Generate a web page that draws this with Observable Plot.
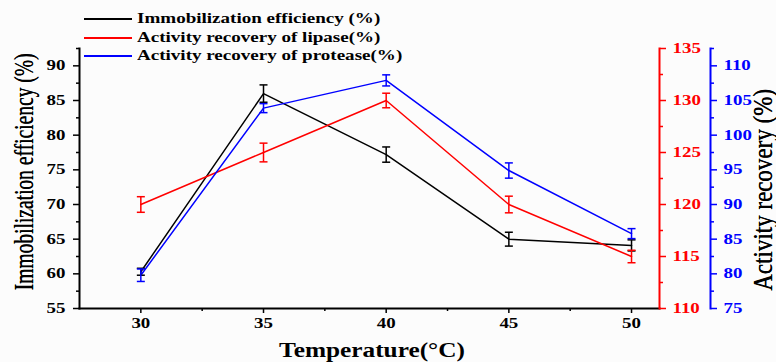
<!DOCTYPE html>
<html><head><meta charset="utf-8">
<script src="https://cdn.jsdelivr.net/npm/d3@7"></script>
<script src="https://cdn.jsdelivr.net/npm/@observablehq/plot@0.6"></script>
<style>
html,body{margin:0;padding:0;background:#fcfcfc;overflow:hidden;}
#wrap{position:relative;width:776px;height:362px;font-family:"Liberation Serif","Times New Roman",serif;color:#000;}
.leg{position:absolute;left:137px;font-weight:bold;font-size:14px;line-height:18px;white-space:nowrap;transform:scaleX(1.36);transform-origin:0 50%;}
.legline{position:absolute;left:84px;width:48px;height:2px;}
.ttl{position:absolute;white-space:nowrap;line-height:1;}
</style></head><body><div id="wrap"></div>
<script>
// ---- data ----
const temperature = [30, 35, 40, 45, 50];
const immobilization = [60.3, 86, 77.2, 65, 64.1];
const immobilizationErr = [0.5, 1.25, 1.1, 1.0, 0.8];
const lipase = [120, 125, 130, 120, 115];
const lipaseErr = [0.75, 0.9, 0.7, 0.8, 0.6];
const protease = [79.8, 103.9, 107.9, 94.9, 85.8];
const proteaseErr = [0.9, 0.65, 0.8, 1.1, 0.72];
const seriesNames = ["Immobilization efficiency (%)", "Activity recovery of lipase(%)", "Activity recovery of protease(%)"];
const seriesColors = ["#000000", "#ff0000", "#0000ff"];
const xTicks = [30, 35, 40, 45, 50];
const xMinor = [32.5, 37.5, 42.5, 47.5];
const leftTicks = [55, 60, 65, 70, 75, 80, 85, 90];
const leftMinor = [57.5, 62.5, 67.5, 72.5, 77.5, 82.5, 87.5, 92.5];
const redTicks = [110, 115, 120, 125, 130, 135];
const redMinor = [112.5, 117.5, 122.5, 127.5, 132.5];
const blueTicks = [75, 80, 85, 90, 95, 100, 105, 110];
const blueMinor = [77.5, 82.5, 87.5, 92.5, 97.5, 102.5, 107.5, 112.5];
const xDomain = [27.5, 51.14];
const leftDomain = [55, 92.5];
const redDomain = [110, 135];
const blueDomain = [75, 112.5];
const xTitle = "Temperature(°C)";
const leftTitle = "Immobilization efficiency (%)";
const rightTitle = "Activity recovery (%)";

// ---- scale mapping of secondary axes onto the left scale ----
const mapper = (dom) => d3.scaleLinear().domain(dom).range(leftDomain);
const redMap = mapper(redDomain), blueMap = mapper(blueDomain);

const rows = [];
const addSeries = (name, vals, errs, m) => vals.forEach((v, i) => rows.push({
  series: name, x: temperature[i], y: m(v), lo: m(v - errs[i]), hi: m(v + errs[i])
}));
addSeries(seriesNames[0], immobilization, immobilizationErr, (v) => v);
addSeries(seriesNames[1], lipase, lipaseErr, redMap);
addSeries(seriesNames[2], protease, proteaseErr, blueMap);

function cap(color) {
  const ns = "http://www.w3.org/2000/svg";
  const m = document.createElementNS(ns, "marker");
  m.setAttribute("viewBox", "-5 -5 10 10");
  m.setAttribute("markerWidth", 10);
  m.setAttribute("markerHeight", 10);
  m.setAttribute("markerUnits", "userSpaceOnUse");
  m.setAttribute("orient", "auto");
  const p = document.createElementNS(ns, "path");
  p.setAttribute("d", "M0,-4V4");
  p.setAttribute("stroke", color);
  p.setAttribute("stroke-width", 1.5);
  p.setAttribute("fill", "none");
  m.appendChild(p);
  return m;
}

const plot = Plot.plot({
  width: 776, height: 362,
  marginLeft: 79, marginRight: 117, marginTop: 48, marginBottom: 54,
  style: {fontFamily: "Liberation Serif, Times New Roman, serif", fontSize: "14px", fontWeight: "bold", background: "transparent", overflow: "visible"},
  x: {domain: xDomain, axis: null},
  y: {domain: leftDomain, axis: null},
  color: {domain: seriesNames, range: seriesColors},
  marks: [
    Plot.frame({anchor: "left", stroke: "#000", strokeWidth: 2}),
    Plot.frame({anchor: "bottom", stroke: "#000", strokeWidth: 2}),
    Plot.frame({anchor: "right", stroke: "#ff0000", strokeWidth: 2}),
    Plot.frame({anchor: "right", stroke: "#0000ff", strokeWidth: 2, insetRight: -51}),
    Plot.axisX(xTicks, {anchor: "bottom", tickSize: 5, tickPadding: 5, strokeWidth: 1.5, label: null}),
    Plot.axisX(xMinor, {anchor: "bottom", tickSize: 3, strokeWidth: 1.5, fill: "none", label: null}),
    Plot.axisY(leftTicks, {anchor: "left", tickSize: 6, tickPadding: 8, strokeWidth: 1.5, label: null}),
    Plot.axisY(leftMinor, {anchor: "left", tickSize: 3, strokeWidth: 1.5, fill: "none", label: null}),
    Plot.axisY(redTicks.map(redMap), {anchor: "right", stroke: "#ff0000", fill: "#ff0000", tickSize: 6, tickPadding: 7, strokeWidth: 1.5, tickFormat: (d) => Math.round(redMap.invert(d)), label: null}),
    Plot.axisY(redMinor.map(redMap), {anchor: "right", stroke: "#ff0000", fill: "none", tickSize: 3, strokeWidth: 1.5, label: null}),
    Plot.axisY(blueTicks.map(blueMap), {anchor: "right", dx: 51, stroke: "#0000ff", fill: "#0000ff", tickSize: 6, tickPadding: 7, strokeWidth: 1.5, tickFormat: (d) => Math.round(blueMap.invert(d)), label: null}),
    Plot.axisY(blueMinor.map(blueMap), {anchor: "right", dx: 51, stroke: "#0000ff", fill: "none", tickSize: 3, strokeWidth: 1.5, label: null}),
    Plot.line(rows, {x: "x", y: "y", z: "series", stroke: "series", strokeWidth: 1.5}),
    Plot.link(rows, {x1: "x", x2: "x", y1: "lo", y2: "hi", stroke: "series", strokeWidth: 1.5, markerStart: cap, markerEnd: cap})
  ]
});

// stretch tick labels horizontally like the reference typeface
d3.select(plot).selectAll('[aria-label$="tick label"] text').attr("transform", function () {
  return (this.getAttribute("transform") || "") + " scale(1.35,1)";
});

const wrap = document.getElementById("wrap");
wrap.appendChild(plot);

// legend
const legY = [19, 37.5, 56];
seriesNames.forEach((name, i) => {
  const ln = document.createElement("div");
  ln.className = "legline";
  ln.style.top = (legY[i] - 1) + "px";
  ln.style.backgroundColor = seriesColors[i];
  wrap.appendChild(ln);
  const t = document.createElement("div");
  t.className = "leg";
  t.style.top = (legY[i] - 9) + "px";
  t.textContent = name;
  wrap.appendChild(t);
});

// titles
function title(text, cx, cy, css, tf) {
  const d = document.createElement("div");
  d.className = "ttl";
  d.textContent = text;
  d.style.left = cx + "px";
  d.style.top = cy + "px";
  Object.assign(d.style, css);
  d.style.transform = "translate(-50%,-50%) " + tf;
  wrap.appendChild(d);
}
title(leftTitle, 24, 172, {fontSize: "19.5px", textShadow: "0.3px 0 0 #000"}, "rotate(-90deg) scaleY(1.4)");
title(rightTitle, 763, 190, {fontSize: "23px", textShadow: "0.3px 0 0 #000"}, "rotate(-90deg) scaleY(1.15)");
title(xTitle, 372, 350, {fontSize: "22px", fontWeight: "bold"}, "scaleX(1.15)");
</script></body></html>
